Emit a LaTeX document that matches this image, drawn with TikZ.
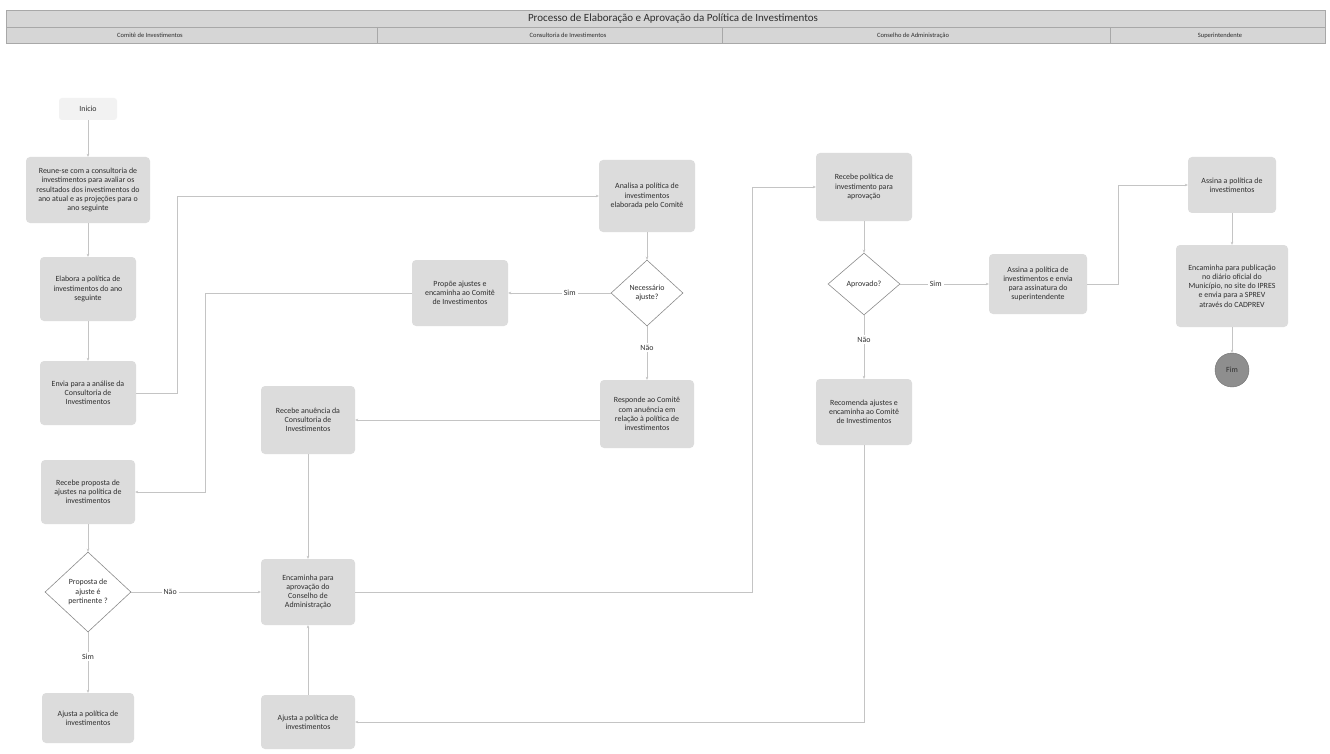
\documentclass[tikz,border=0pt]{standalone}
\usepackage{fontspec}
\setmainfont{Carlito}
\usetikzlibrary{shapes.geometric,arrows.meta}
\definecolor{boxgray}{HTML}{DCDCDC}
\definecolor{inigray}{HTML}{F2F2F2}
\definecolor{linegray}{HTML}{C4C4C4}
\definecolor{diagray}{HTML}{8C8C8C}
\definecolor{txtgray}{HTML}{2E2E2E}
\definecolor{hdrgray}{HTML}{D6D6D6}
\definecolor{hdrline}{HTML}{A8A8A8}
\definecolor{fimgray}{HTML}{8E8E8E}
\tikzset{
  stepbox/.style={rectangle, rounded corners=4pt, fill=boxgray, draw=none, align=center,
    text=txtgray, font=\fontsize{7.9}{9.2}\selectfont, inner sep=1pt},
  inibox/.style={rectangle, rounded corners=3pt, fill=inigray, draw=none, align=center,
    text=txtgray, font=\fontsize{7.9}{9.2}\selectfont, minimum width=58pt, minimum height=22pt},
  decis/.style={diamond, draw=diagray, line width=0.6pt, fill=white, align=center,
    text=txtgray, font=\fontsize{7.9}{9.2}\selectfont, inner sep=0pt},
  conn/.style={draw=linegray, line width=0.5pt, -{Stealth[length=3pt,width=2.6pt]}},
  lbl/.style={fill=white, text=txtgray, font=\fontsize{7.9}{9.2}\selectfont, inner sep=2pt},
  lanelbl/.style={text=txtgray, font=\fontsize{6.5}{8}\selectfont, inner sep=0pt},
}
\begin{document}
\begin{tikzpicture}[x=1pt,y=-1pt]
\useasboundingbox[fill=white] (0,0) rectangle (1330,754);
% header
\draw[fill=hdrgray, draw=hdrline, line width=0.4pt] (6,10) rectangle (1325,27);
\draw[fill=hdrgray, draw=hdrline, line width=0.4pt] (6,27) rectangle (1325,43);
\foreach \xx in {377,722,1110} \draw[hdrline, line width=0.5pt] (\xx,27) -- (\xx,43);
\node[text=txtgray, font=\fontsize{11}{12}\selectfont] (title) at (673,19) {Processo de Elaboração e Aprovação da Política de Investimentos};
\node[lanelbl] (l1) at (150,35.5) {Comitê de Investimentos};
\node[lanelbl] (l2) at (568,35.5) {Consultoria de Investimentos};
\node[lanelbl] (l3) at (913,35.5) {Conselho de Administração};
\node[lanelbl] (l4) at (1220,35.5) {Superintendente};

% Comitê lane
\node[inibox] (ini) at (88,109) {Inicio};
\node[stepbox, minimum width=124pt, minimum height=66pt] (reune) at (88,190)
  {Reune-se com a consultoria de\\investimentos para avaliar os\\resultados dos investimentos do\\ano atual e as projeções para o\\ano seguinte};
\node[stepbox, minimum width=96pt, minimum height=64pt] (elab) at (88,289)
  {Elabora a política de\\investimentos do ano\\seguinte};
\node[stepbox, minimum width=96pt, minimum height=64pt] (envia) at (88,393)
  {Envia para a análise da\\Consultoria de\\Investimentos};
\node[stepbox, minimum width=94pt, minimum height=64pt] (recprop) at (88,492)
  {Recebe proposta de\\ajustes na política de\\investimentos};
\node[decis, minimum width=86pt, minimum height=80pt] (d1) at (88,592)
  {Proposta de\\ajuste é\\pertinente ?};
\node[stepbox, minimum width=92pt, minimum height=50pt] (ajl) at (88,718)
  {Ajusta a política de\\investimentos};

% Consultoria column (middle)
\node[stepbox, minimum width=94pt, minimum height=68pt] (anu) at (308,420)
  {Recebe anuência da\\Consultoria de\\Investimentos};
\node[stepbox, minimum width=94pt, minimum height=66pt] (enc) at (308,592)
  {Encaminha para\\aprovação do\\Conselho de\\Administração};
\node[stepbox, minimum width=94pt, minimum height=54pt] (ajm) at (308,722)
  {Ajusta a política de\\investimentos};
\node[stepbox, minimum width=96pt, minimum height=66pt] (prop) at (460,293)
  {Propõe ajustes e\\encaminha ao Comitê\\de Investimentos};
\node[stepbox, minimum width=96pt, minimum height=72pt] (anal) at (647,196)
  {Analisa a política de\\investimentos\\elaborada pelo Comitê};
\node[decis, minimum width=72pt, minimum height=66pt] (d2) at (647,293)
  {Necessário\\ajuste?};
\node[stepbox, minimum width=94pt, minimum height=68pt] (resp) at (647,414)
  {Responde ao Comitê\\com anuência em\\relação à política de\\investimentos};

% Conselho
\node[stepbox, minimum width=96pt, minimum height=68pt] (recpol) at (864,187)
  {Recebe política de\\investimento para\\aprovação};
\node[decis, minimum width=72pt, minimum height=62pt] (d3) at (864,284)
  {Aprovado?};
\node[stepbox, minimum width=96pt, minimum height=66pt] (recom) at (864,412)
  {Recomenda ajustes e\\encaminha ao Comitê\\de Investimentos};
\node[stepbox, minimum width=98pt, minimum height=60pt] (assenv) at (1038,284)
  {Assina a política de\\investimentos e envia\\para assinatura do\\superintendente};

% Superintendente
\node[stepbox, minimum width=88pt, minimum height=56pt] (ass) at (1232,185)
  {Assina a política de\\investimentos};
\node[stepbox, minimum width=112pt, minimum height=82pt] (pub) at (1232,286)
  {Encaminha para publicação\\no diário oficial do\\Município, no site do IPRES\\e envia para a SPREV\\através do CADPREV};
\node[circle, fill=fimgray, draw=diagray!80!black, line width=0.4pt, minimum size=34pt, inner sep=0pt,
  text=txtgray, font=\fontsize{7.9}{9.2}\selectfont] (fim) at (1232,370) {Fim};

% connectors
\draw[conn] (ini) -- (reune);
\draw[conn] (reune) -- (elab);
\draw[conn] (elab) -- (envia);
\draw[conn] (envia.east) -- (177,393) |- (anal.west);
\draw[conn] (prop.west) -- (205,293) |- (recprop.east);
\draw[conn] (recprop) -- (d1);
\draw[conn] (d1.east) -- node[lbl, pos=0.3] (nao1) {Não} (enc.west);
\draw[conn] (d1.south) -- node[lbl, pos=0.4] (sim1) {Sim} (ajl.north);
\draw[conn] (anal) -- (d2);
\draw[conn] (d2.west) -- node[lbl, pos=0.4] (sim2) {Sim} (prop.east);
\draw[conn] (d2.south) -- node[lbl, pos=0.4] (nao2) {Não} (resp.north);
\draw[conn] (anu.east -| resp.west) -- (anu.east);
\draw[conn] (anu) -- (enc);
\draw[conn] (ajm) -- (enc);
\draw[conn] (enc.east) -- (752,592) |- (recpol.west);
\draw[conn] (recpol) -- (d3);
\draw[conn] (d3.east) -- node[lbl, pos=0.4] (sim3) {Sim} (assenv.west);
\draw[conn] (d3.south) -- node[lbl, pos=0.38] (nao3) {Não} (recom.north);
\draw[conn] (recom.south) |- (ajm.east);
\draw[conn] (assenv.east) -- (1118,284) |- (ass.west);
\draw[conn] (ass) -- (pub);
\draw[conn] (pub) -- (fim);
\end{tikzpicture}
\end{document}
